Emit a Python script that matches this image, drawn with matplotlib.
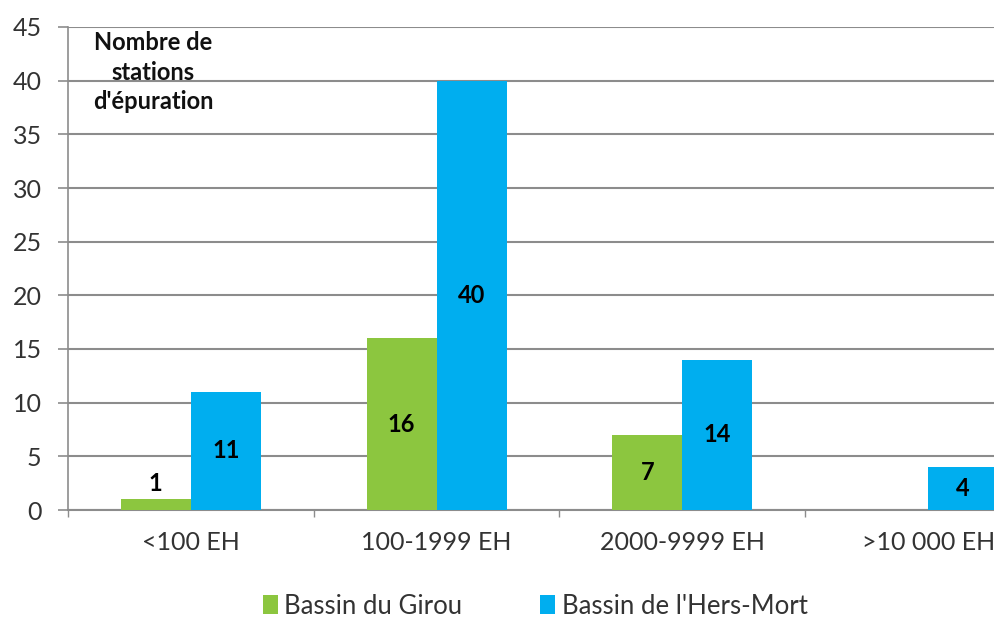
import matplotlib
matplotlib.use("Agg")
import matplotlib.pyplot as plt
import numpy as np

categories = ["<100 EH", "100-1999 EH", "2000-9999 EH", ">10 000 EH"]
girou = [1, 16, 7, 0]
hers = [11, 40, 14, 4]
series_names = ["Bassin du Girou", "Bassin de l'Hers-Mort"]
yticks = [0, 5, 10, 15, 20, 25, 30, 35, 40, 45]

plt.rcParams['font.family'] = ['Lato', 'DejaVu Sans']
GREEN = "#8cc63f"
BLUE = "#00aeef"
GRID = "#8c8c8c"

W, H = 995, 617
fig = plt.figure(figsize=(W / 100, H / 100), dpi=100)
left_px, right_px = 68, 1051
top_px, bot_px = 27, 510
ax = fig.add_axes([left_px / W, 1 - bot_px / H, (right_px - left_px) / W, (bot_px - top_px) / H])

x = np.arange(len(categories))
bw = 0.285
b1 = ax.bar(x - bw / 2, girou, bw, color=GREEN, zorder=3)
b2 = ax.bar(x + bw / 2, hers, bw, color=BLUE, zorder=3)

for bars, vals in ((b1, girou), (b2, hers)):
    for rect, v in zip(bars, vals):
        if v <= 0:
            continue
        cx = rect.get_x() + rect.get_width() / 2
        if v < 2:
            ax.text(cx, v + 0.4, str(v), ha="center", va="bottom", fontsize=17,
                    fontweight="bold", color="black", zorder=4)
        else:
            ax.text(cx, v / 2, str(v), ha="center", va="center", fontsize=17,
                    fontweight="bold", color="black", zorder=4)

ax.set_xlim(-0.5, len(categories) - 0.5)
ax.set_ylim(0, 45)
ax.set_yticks(yticks)
ax.set_yticklabels([str(t) for t in yticks], fontsize=18, color="#333333")
ax.yaxis.grid(True, color=GRID, linewidth=1.5, zorder=0)
ax.set_axisbelow(True)

ax.set_xticks(x)
ax.set_xticklabels(categories, fontsize=18, color="#333333")
ax.set_xticks(np.arange(-0.5, len(categories)), minor=True)
ax.tick_params(axis="x", which="major", length=0, pad=15)
ax.tick_params(axis="x", which="minor", length=5, color=GRID, width=1)
ax.tick_params(axis="y", length=7, color=GRID, width=1.2, pad=12)

for s in ["top", "right"]:
    ax.spines[s].set_visible(False)
ax.spines["left"].set_color(GRID)
ax.spines["left"].set_linewidth(1.2)
ax.spines["bottom"].set_color(GRID)
ax.spines["bottom"].set_linewidth(1.5)

fig.text(153 / W, 1 - 72 / H, "Nombre de\nstations\nd'épuration", ha="center", va="center",
         fontsize=17, fontweight="bold", linespacing=1.35, color="#111111")

leg = fig.legend([b1, b2], series_names, loc="center", bbox_to_anchor=(535 / W, 1 - 606 / H),
                 ncol=2, frameon=False, fontsize=18.5, handlelength=0.6, handleheight=0.8,
                 handletextpad=0.25, columnspacing=3.0)
for t in leg.get_texts():
    t.set_color("#333333")

fig.savefig("out.png", dpi=100, facecolor="white")
